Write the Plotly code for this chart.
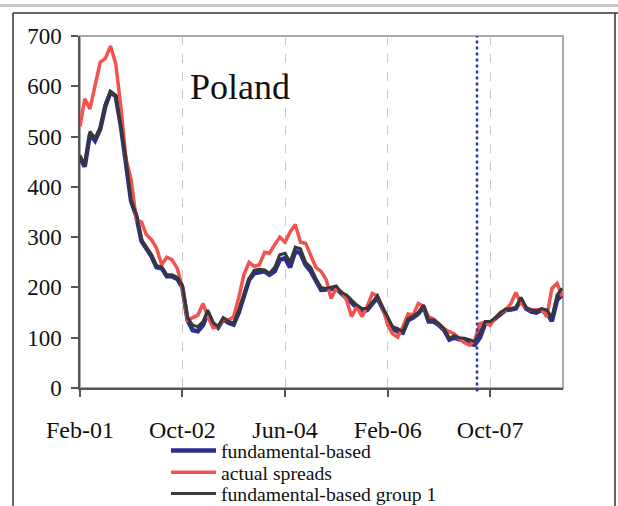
import pandas as pd
import plotly.graph_objects as go

months = pd.date_range("2001-02-01", periods=95, freq="MS")

fundamental = [458,440,505,492,515,560,588,580,522,450,372,342,292,278,262,240,238,222,222,217,
               200,135,115,113,125,150,128,120,137,130,126,150,180,215,228,230,232,225,232,255,258,
               240,272,268,245,232,212,195,196,198,198,188,180,170,160,152,155,168,180,158,
               138,118,112,110,135,140,148,162,132,132,125,115,96,100,97,95,88,86,100,128,
               130,138,148,155,156,158,176,158,152,150,155,150,133,175,185]

actual = [520,575,555,600,648,655,680,645,560,455,415,335,330,305,295,278,245,260,255,238,
          200,135,140,145,168,142,120,122,138,135,142,180,225,250,242,245,270,268,285,300,290,
          310,325,290,288,262,240,232,215,178,198,192,175,142,162,142,162,188,183,160,
          125,108,101,122,147,145,168,162,142,137,128,118,112,108,98,90,85,95,128,130,
          125,140,150,155,168,190,168,160,155,155,156,142,198,208,182]

group1 = [463,443,510,497,518,565,590,582,525,455,375,345,295,281,265,243,241,225,225,220,
          205,140,125,122,132,155,130,122,140,133,129,155,185,218,234,236,235,228,240,265,268,
          250,280,277,250,240,218,200,198,200,203,190,185,175,165,158,158,170,183,160,
          140,122,118,112,138,143,150,165,135,135,128,118,99,104,100,99,96,92,110,132,
          132,140,150,157,158,160,180,160,155,153,158,155,140,185,198]

tick_dates = ["2001-02-01", "2002-10-01", "2004-06-01", "2006-02-01", "2007-10-01"]
tick_labels = ["Feb-01", "Oct-02", "Jun-04", "Feb-06", "Oct-07"]
y_ticks = [0, 100, 200, 300, 400, 500, 600, 700]
marker_date = "2007-07-15"

SERIF = "Liberation Serif, Times New Roman, serif"

fig = go.Figure()
fig.add_trace(go.Scatter(x=months, y=fundamental, mode="lines", name="fundamental-based",
                         legend="legend", line=dict(color="#2b2f8f", width=4.5)))
fig.add_trace(go.Scatter(x=months, y=actual, mode="lines", name="actual spreads",
                         legend="legend2", line=dict(color="#f2534f", width=3.5)))
fig.add_trace(go.Scatter(x=months, y=group1, mode="lines", name="fundamental-based group 1",
                         legend="legend3", line=dict(color="#383838", width=3)))

# dotted vertical marker
fig.add_shape(type="line", xref="x", yref="paper", x0=marker_date, x1=marker_date, y0=-0.01, y1=1,
              line=dict(color="#2b35b0", width=2.5, dash="dot"))
# plot frame (top/right)
fig.add_shape(type="rect", xref="paper", yref="paper", x0=0, x1=1, y0=0, y1=1,
              line=dict(color="#a8a8a8", width=2), layer="below")
# outer box
fig.add_shape(type="line", xref="paper", yref="paper", x0=-0.1387, x1=-0.1387, y0=1.0653, y1=-0.4,
              line=dict(color="#333333", width=1.5))
fig.add_shape(type="line", xref="paper", yref="paper", x0=-0.1387, x1=1.2, y0=1.0653, y1=1.0653,
              line=dict(color="#333333", width=1.5))
fig.add_shape(type="line", xref="paper", yref="paper", x0=1.1077, x1=1.1077, y0=1.0653, y1=-0.4,
              line=dict(color="#333333", width=1.5))
# top gray rule
fig.add_shape(type="line", xref="paper", yref="paper", x0=-0.3, x1=1.3, y0=1.087, y1=1.087,
              line=dict(color="#c8c8c8", width=3))

fig.add_annotation(text="Poland", xref="paper", yref="paper", x=0.331, y=0.855,
                   xanchor="center", yanchor="middle",
                   showarrow=False, font=dict(family=SERIF, size=36, color="#111111"))

fig.update_xaxes(type="date", range=["2001-02-01", "2008-12-06"],
                 tickvals=tick_dates, ticktext=tick_labels,
                 showgrid=True, gridcolor="#c8c8c8", griddash="dash", gridwidth=1,
                 showline=True, linecolor="#555555", linewidth=1.5,
                 ticks="outside", ticklen=7, tickcolor="#555555", tickwidth=1.5,
                 ticklabelstandoff=12,
                 tickfont=dict(family=SERIF, size=24, color="#111111"), zeroline=False)
fig.update_yaxes(range=[0, 700], tickvals=y_ticks, showgrid=False, zeroline=False,
                 showline=True, linecolor="#555555", linewidth=1.5,
                 ticks="outside", ticklen=7, tickcolor="#555555", tickwidth=1.5,
                 ticklabelstandoff=5,
                 tickfont=dict(family=SERIF, size=23, color="#111111"))

leg_common = dict(xanchor="left", yanchor="middle", bgcolor="rgba(0,0,0,0)", itemwidth=45,
                  font=dict(family=SERIF, size=19.7, color="#111111"))
fig.update_layout(width=618, height=506,
                  margin=dict(l=80, r=55, t=36, b=118, autoexpand=False),
                  paper_bgcolor="white", plot_bgcolor="white",
                  showlegend=True,
                  legend=dict(x=0.178, y=-0.178, **leg_common),
                  legend2=dict(x=0.178, y=-0.24, **leg_common),
                  legend3=dict(x=0.178, y=-0.30, **leg_common))

fig.write_html("out.html", config={"displayModeBar": False},
               post_script="document.body.style.margin='0';document.body.style.overflow='hidden';")
